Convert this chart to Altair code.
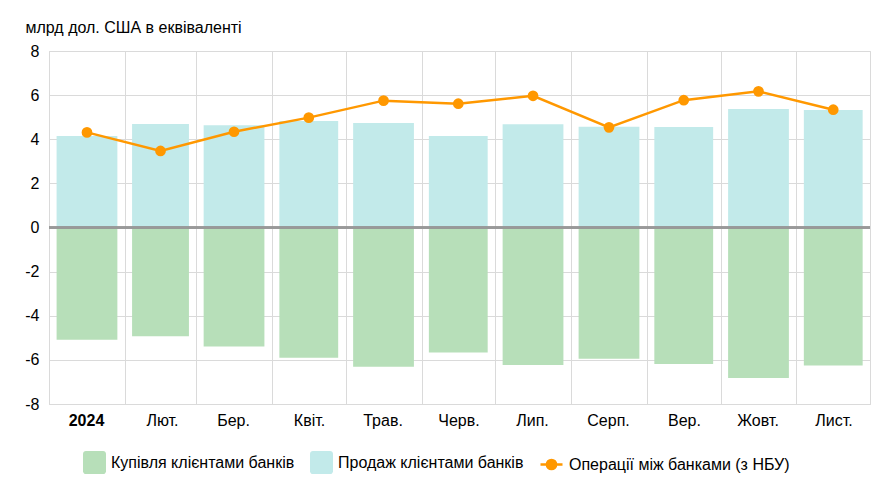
import altair as alt
import pandas as pd

months = ["2024-01-01", "2024-02-01", "2024-03-01", "2024-04-01", "2024-05-01", "2024-06-01",
          "2024-07-01", "2024-08-01", "2024-09-01", "2024-10-01", "2024-11-01"]
month_labels = ["2024", "Лют.", "Бер.", "Квіт.", "Трав.", "Черв.", "Лип.", "Серп.", "Вер.", "Жовт.", "Лист.", ""]
buy = [-5.09, -4.93, -5.39, -5.90, -6.31, -5.67, -6.23, -5.95, -6.19, -6.82, -6.26]
sell = [4.15, 4.69, 4.63, 4.83, 4.74, 4.15, 4.68, 4.57, 4.56, 5.37, 5.33]
interbank = [4.31, 3.47, 4.34, 4.98, 5.75, 5.61, 5.97, 4.54, 5.77, 6.17, 5.34]

s_buy = "Купівля клієнтами банків"
s_sell = "Продаж клієнтами банків"
s_line = "Операції між банками (з НБУ)"
y_title = "млрд дол. США в еквіваленті"

FONT = "Liberation Sans"
GRID = "#dadada"

bars_df = pd.DataFrame({
    "date": months * 2,
    "series": [s_buy] * len(months) + [s_sell] * len(months),
    "value": buy + sell,
})
line_df = pd.DataFrame({"date": months, "value": interbank})

S = "utc(utcyear(toDate(datum.date)), utcmonth(toDate(datum.date)), 1)"
E = "utc(utcyear(toDate(datum.date)), utcmonth(toDate(datum.date)) + 1, 1)"

def with_bounds(ch):
    return ch.transform_calculate(ms=S, me=E).transform_calculate(
        x0="datum.ms + 0.1 * (datum.me - datum.ms)",
        x1="datum.me - 0.1 * (datum.me - datum.ms)",
        xm="(datum.ms + datum.me) / 2",
    )

label_arr = "[" + ",".join("'" + l + "'" for l in month_labels) + "]"
grid_values = [alt.DateTime(year=2024, month=m, date=1, utc=True) for m in range(1, 13)]

x_scale = alt.Scale(type="utc", domain=[alt.DateTime(year=2024, month=1, date=1, utc=True),
                                         alt.DateTime(year=2024, month=12, date=1, utc=True)])
x_axis = alt.Axis(
    values=grid_values, grid=True, gridColor=GRID, ticks=False, domainColor=GRID,
    labelExpr=label_arr + "[utcmonth(datum.value)]",
    labelOffset=37, labelAlign="center", labelPadding=8,
    labelFontSize=16, labelFont=FONT, labelColor="#000",
    labelFontWeight={"condition": {"test": "utcmonth(datum.value) == 0", "value": "bold"}, "value": "normal"},
    labelOverlap=False, labelBound=False, labelFlush=False, title=None,
)
y_scale = alt.Scale(domain=[-8, 8], nice=False)
y_axis = alt.Axis(
    values=list(range(-8, 9, 2)), grid=True, gridColor=GRID, ticks=False, domainColor=GRID,
    labelExpr="toString(datum.value)",
    labelFontSize=16, labelFont=FONT, labelColor="#000", labelPadding=10,
    title=y_title, titleAngle=0, titleAlign="left", titleBaseline="alphabetic",
    titleX=-24, titleY=-19, titleFont=FONT, titleFontSize=16, titleFontWeight="normal",
    titleColor="#000",
)

sq_path = ("M-1,-0.75A0.25,0.25 0 0 1 -0.75,-1L0.75,-1A0.25,0.25 0 0 1 1,-0.75"
           "L1,0.75A0.25,0.25 0 0 1 0.75,1L-0.75,1A0.25,0.25 0 0 1 -1,0.75Z")
line_path = ("M-1,0L1,0M0.42,0A0.42,0.42 0 1 1 -0.42,0A0.42,0.42 0 1 1 0.42,0Z")

bars = with_bounds(alt.Chart(bars_df)).mark_bar().encode(
    x=alt.X("x0:T", scale=x_scale, axis=x_axis),
    x2="x1:T",
    y=alt.Y("value:Q", scale=y_scale, axis=y_axis),
    y2=alt.datum(0),
    fill=alt.Fill("series:N",
                  scale=alt.Scale(domain=[s_buy, s_sell], range=["#b7dfb9", "#c2eaea"]),
                  legend=alt.Legend(orient="none", legendX=34, legendY=400, direction="horizontal",
                                    title=None, symbolType=sq_path, symbolSize=529,
                                    symbolStrokeWidth=0, labelFontSize=16, labelFont=FONT,
                                    labelColor="#000", labelOffset=5, columnPadding=15,
                                    padding=0, labelLimit=400)),
)

zero = alt.Chart(line_df).mark_rule(color="#999", opacity=0.4, strokeWidth=2).encode(
    y=alt.datum(0, scale=y_scale, axis=y_axis)
)

line = with_bounds(alt.Chart(line_df)).transform_calculate(s="'" + s_line + "'").mark_line(
    strokeWidth=2.5).encode(
    x=alt.X("xm:T", scale=x_scale, axis=x_axis),
    y=alt.Y("value:Q", scale=y_scale, axis=y_axis),
    stroke=alt.Stroke("s:N",
                      scale=alt.Scale(domain=[s_line], range=["#ff9800"]),
                      legend=alt.Legend(orient="none", legendX=490, legendY=401, title=None,
                                        symbolType=line_path, symbolSize=484,
                                        symbolStrokeWidth=2.5, symbolFillColor="#ff9800",
                                        labelFontSize=16, labelFont=FONT, labelColor="#000",
                                        labelOffset=5, padding=0, labelLimit=400)),
)

points = with_bounds(alt.Chart(line_df)).mark_point(filled=True, size=115, opacity=1,
                                                    color="#ff9800").encode(
    x=alt.X("xm:T", scale=x_scale, axis=x_axis),
    y=alt.Y("value:Q", scale=y_scale, axis=y_axis),
)

chart = alt.layer(bars, zero, line, points).properties(
    width=821, height=353,
    autosize=alt.AutoSizeParams(type="none"),
    padding={"left": 49, "top": 51, "right": 21, "bottom": 96},
    background="white",
).configure_view(stroke=GRID)

chart.save("out.html", embed_options={"renderer": "svg", "actions": False})
